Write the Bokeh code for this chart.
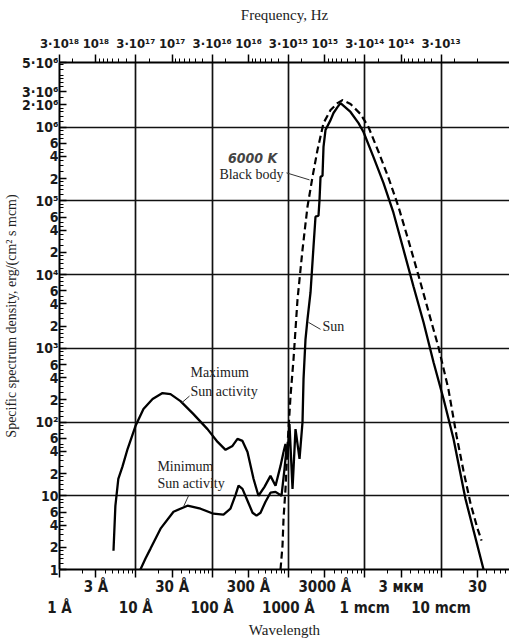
from bokeh.plotting import figure
from bokeh.models import LogAxis, FixedTicker, Range1d, Label
from bokeh.embed import file_html
from bokeh.resources import INLINE

# ---------------- data (wavelength in Å, specific spectrum density) ----------------
max_wl = [5.1, 5.4, 5.9, 6.7, 7.8, 9.9, 12.6, 16.6, 22.4, 28.5, 38.5, 57, 87, 118, 150, 185,
          215, 250, 291, 349, 405, 486, 582, 678, 788, 863]
max_val = [1.8, 7.3, 17, 25, 43, 88, 150, 205, 247, 239, 192, 128, 80, 53.7, 41.9, 47.4,
           59, 55.4, 39.3, 17, 10, 13.2, 18.6, 13.7, 25.4, 39.3]

min_wl = [11.5, 13.4, 15.6, 21.1, 31.2, 47.6, 70.5, 104, 141, 174, 203, 222, 250, 291, 339,
          382, 431, 501, 582, 678, 812, 889, 944]
min_val = [1.0, 1.41, 1.92, 3.58, 6.08, 7.33, 6.67, 5.71, 5.54, 6.67, 10.3, 13.7, 12.4, 8.56,
           5.89, 5.37, 5.89, 8.3, 11, 11.3, 10, 23.2, 43.2]

sun_wl = [863, 916, 973, 1033, 1132, 1239, 1399, 1531, 1578, 1675, 1778, 1949, 2133, 2265,
          2479, 2557, 2636, 2799, 2884, 3062, 3565, 3900, 4397, 4820, 6516, 8300, 9640, 13000,
          17600, 23800, 32200, 43600, 59000, 79800, 108000, 146000, 209000, 361000]
sun_val = [39.3, 50.4, 33.7, 94, 12.4, 80, 31.6, 100, 381, 1324, 2466, 5710, 23900, 60800,
           62700, 103000, 211000, 218000, 537000, 910000, 1.24e6, 1.55e6, 1.86e6, 2.11e6,
           1.6e6, 1.13e6, 855000, 393000, 175000, 68900, 21800, 6880, 2250, 647, 205, 59,
           9.1, 1.0]

bb_wl = [788, 837, 863, 916, 973, 1066, 1167, 1316, 1531, 1778, 2070, 2405, 2884, 3565, 4397,
         5117, 6516, 8810, 11200, 15200, 20500, 27700, 37500, 50700, 68500, 92700, 125000,
         160000, 197000, 244000, 301000, 340000]
bb_val = [1.0, 2.11, 4.89, 12.4, 47.4, 225, 710, 4590, 21800, 83000, 211000, 489000, 1.13e6,
          1.7e6, 2.11e6, 2.32e6, 2.05e6, 1.5e6, 1.0e6, 459000, 205000, 83000, 28800, 9690,
          3160, 1030, 279, 64.7, 21.8, 7.8, 3.58, 2.47]

# ---------------- tick labels ----------------
wl_row1_ticks = [3, 30, 300, 3000, 30000, 300000]
wl_row1_labels = ["3 Å", "30 Å", "300 Å", "3000 Å", "3 мкм", "30"]
wl_row2_ticks = [1, 10, 100, 1000, 10000, 100000]
wl_row2_labels = ["1 Å", "10 Å", "100 Å", "1000 Å", "1 mcm", "10 mcm"]

freq_ticks = [1, 3, 10, 30, 100, 300, 1000, 3000, 10000, 30000, 100000]
freq_labels = ["3·10¹⁸", "10¹⁸", "3·10¹⁷", "10¹⁷", "3·10¹⁶", "10¹⁶", "3·10¹⁵", "10¹⁵",
               "3·10¹⁴", "10¹⁴", "3·10¹³"]

Y_TOP = 7.5e6
y_ticks = [1, 2, 4, 6, 10, 20, 40, 60, 100, 200, 400, 600, 1000, 2000, 4000, 6000,
           10000, 20000, 40000, 60000, 100000, 200000, 400000, 600000, 1000000,
           2000000, 3000000, Y_TOP]
y_labels = ["1", "2", "4", "6", "10", "2", "4", "6", "10²", "2", "4", "6", "10³", "2", "4",
            "6", "10⁴", "2", "4", "6", "10⁵", "2", "4", "6", "10⁶", "2·10⁶", "3·10⁶", "5·10⁶"]

TICK_FONT = "'Liberation Sans Narrow', 'DejaVu Sans Condensed', Roboto, sans-serif"
SERIF = "'Liberation Serif', 'DejaVu Serif', serif"

p = figure(width=509, height=640, x_axis_type="log", y_axis_type="log",
           x_range=Range1d(1, 7.9e5), y_range=Range1d(1, Y_TOP),
           output_backend="svg", toolbar_location=None,
           min_border_left=59, min_border_right=0, min_border_top=62, min_border_bottom=69)
p.outline_line_color = None
p.background_fill_color = "white"
p.border_fill_color = "white"

# grid
p.xgrid.ticker = FixedTicker(ticks=[10, 100, 1000, 10000, 100000])
p.ygrid.ticker = FixedTicker(ticks=[10, 100, 1000, 10000, 100000, 1000000])
p.grid.grid_line_color = "#111111"
p.grid.grid_line_width = 1.7
p.grid.grid_line_alpha = 1.0


def style_axis(ax, size="15px"):
    ax.axis_line_color = "black"
    ax.axis_line_width = 2
    ax.major_tick_line_color = "black"
    ax.minor_tick_line_color = "black"
    ax.major_tick_line_width = 1.5
    ax.minor_tick_line_width = 1
    ax.major_label_text_font = TICK_FONT
    ax.major_label_text_font_style = "bold"
    ax.major_label_text_font_size = size
    ax.major_label_text_color = "#1a1a1a"
    ax.axis_label_text_font = SERIF
    ax.axis_label_text_font_style = "normal"
    ax.axis_label_text_font_size = "15px"
    ax.axis_label_text_color = "#222222"


# left axis
ya = p.yaxis[0]
style_axis(ya, "14px")
y_minor = [k * 10 ** n for n in range(0, 7) for k in (1.2, 1.4, 1.6, 1.8, 2, 2.5, 3, 3.5, 4, 4.5, 5, 6, 7, 8, 9)]
ya.ticker = FixedTicker(ticks=y_ticks, minor_ticks=y_minor)
ya.major_label_overrides = {t: l for t, l in zip(y_ticks, y_labels)}
ya.major_tick_in = 7
ya.major_tick_out = 0
ya.minor_tick_in = 4
ya.minor_tick_out = 0
ya.major_label_standoff = 1
ya.axis_label = "Specific spectrum density, erg/(cm² s mcm)"
ya.axis_label_standoff = 0
ya.axis_label_text_font_size = "14px"

# bottom axis, row 1 (with ticks)
xa = p.xaxis[0]
style_axis(xa)
x_minor = [k * 10 ** n for n in range(0, 6) for k in range(2, 10)]
xa.ticker = FixedTicker(ticks=wl_row2_ticks + wl_row1_ticks, minor_ticks=x_minor)
ov = {t: "" for t in wl_row2_ticks}
ov.update({t: l for t, l in zip(wl_row1_ticks, wl_row1_labels)})
xa.major_label_overrides = ov
xa.major_tick_out = 8
xa.major_tick_in = 0
xa.minor_tick_out = 4
xa.minor_tick_in = 0
xa.major_label_standoff = 0

# bottom axis, row 2 (labels only)
xb = LogAxis(ticker=FixedTicker(ticks=wl_row2_ticks))
style_axis(xb)
xb.major_label_overrides = {t: l for t, l in zip(wl_row2_ticks, wl_row2_labels)}
xb.axis_line_color = None
xb.major_tick_line_color = None
xb.minor_tick_line_color = None
xb.major_tick_out = 0
xb.major_tick_in = 0
xb.major_label_standoff = 0
xb.axis_label = "Wavelength"
xb.axis_label_standoff = 2
p.add_layout(xb, "below")

# top frequency axis
top_minor = [3e18 / (k * 10 ** n) for n in range(13, 19) for k in range(1, 10)]
top_minor = [v for v in top_minor if 1 <= v <= 3e5]
xt = LogAxis(ticker=FixedTicker(ticks=freq_ticks, minor_ticks=top_minor))
style_axis(xt, "13px")
xt.major_label_overrides = {t: l for t, l in zip(freq_ticks, freq_labels)}
xt.major_tick_out = 8
xt.major_tick_in = 0
xt.minor_tick_out = 4
xt.minor_tick_in = 0
xt.major_label_standoff = 4
xt.axis_label = "Frequency, Hz"
xt.axis_label_standoff = 10
p.add_layout(xt, "above")

# curves
p.line(max_wl, max_val, line_color="black", line_width=2.3)
p.line(min_wl, min_val, line_color="black", line_width=2.3)
p.line(sun_wl, sun_val, line_color="black", line_width=2.3)
p.line(bb_wl, bb_val, line_color="black", line_width=2.2, line_dash="7 4")

# annotations
def lab(x, y, text, font=SERIF, size="14px", style="normal", align="left", color="#222222"):
    p.add_layout(Label(x=x, y=y, text=text, text_font=font, text_font_size=size,
                       text_font_style=style, text_align=align, text_baseline="middle",
                       text_color=color))

lab(339, 3.8e5, "6000 K", font=TICK_FONT, size="14px", style="bold italic", align="center", color="#444444")
lab(328, 2.25e5, "Black body", align="center")
lab(2799, 1983, "Sun")
lab(52, 474, "Maximum")
lab(52, 262, "Sun activity")
lab(19.2, 24.6, "Minimum")
lab(19.2, 14.5, "Sun activity")

p.segment(x0=[944, 1834, 39.7, 42.2], y0=[2.39e5, 2245, 181, 7.1],
          x1=[1891, 2636, 50.6, 49.1], y1=[1.92e5, 1806, 225, 10],
          line_color="#333333", line_width=1)

open("out.html", "w").write(file_html(p, INLINE))
